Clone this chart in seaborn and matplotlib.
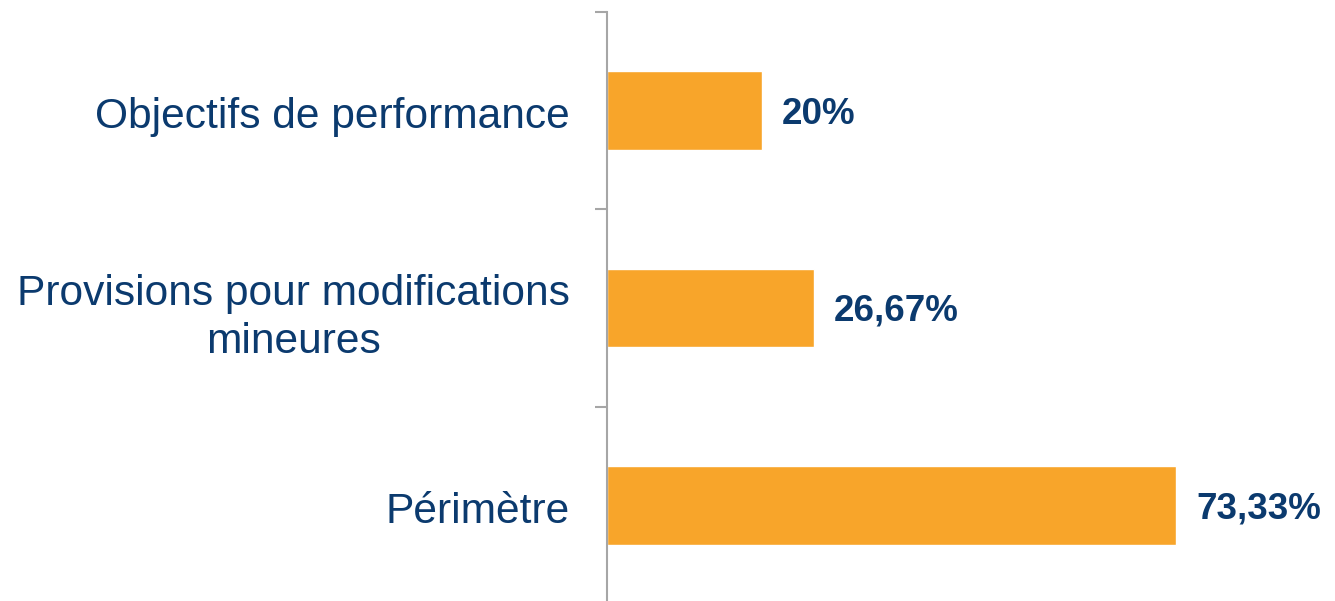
import matplotlib
matplotlib.use("Agg")
import matplotlib.pyplot as plt
import seaborn as sns
import pandas as pd
from matplotlib.transforms import offset_copy

categories = ["Objectifs de performance", "Provisions pour modifications\nmineures", "Périmètre"]
values = [20.0, 26.67, 73.33]
value_labels = ["20%", "26,67%", "73,33%"]

BAR = "#F8A52A"
TEXT = "#0B3A6E"
AXIS = "#A6A6A6"

sns.set_theme(style="white")
plt.rcParams["font.family"] = ["Liberation Sans", "DejaVu Sans"]

df = pd.DataFrame({"cat": categories, "val": values})

fig = plt.figure(figsize=(13.35, 6.01), dpi=100)
ax = fig.add_axes([607 / 1335, -3 / 601, 1 - 607 / 1335, (604 - 12) / 601])

sns.barplot(data=df, y="cat", x="val", orient="h", color=BAR, width=0.4,
            saturation=1, ax=ax)

ax.set_xlim(0, (1335 - 607) / 7.76)
ax.set_ylim(2.5, -0.5)

for sp in ["top", "right", "bottom"]:
    ax.spines[sp].set_visible(False)
ax.spines["left"].set_color(AXIS)
ax.spines["left"].set_linewidth(1.5)
ax.set_xticks([])
ax.set_xlabel("")
ax.set_ylabel("")

# Boundary ticks (major) and category labels (minor)
ax.set_yticks([-0.5, 0.5, 1.5, 2.5])
ax.set_yticklabels([])
ax.set_yticks([0, 1, 2], minor=True)
ax.set_yticklabels(categories, minor=True, fontsize=30.6, color=TEXT,
                   ha="center", linespacing=1.25)
ax.tick_params(axis="y", which="major", length=9, width=1.5, color=AXIS,
               direction="out", left=True)
ax.tick_params(axis="y", which="minor", length=0, pad=0)

fig.canvas.draw()
renderer = fig.canvas.get_renderer()
for lab in ax.get_yticklabels(minor=True):
    bb = lab.get_window_extent(renderer)
    w = bb.width
    lab.set_horizontalalignment("center")
    lab.set_transform(offset_copy(ax.get_yaxis_transform(which="tick1"),
                                  fig=fig, x=(570 - 607 - w / 2) * 0.72,
                                  y=-2 * 0.72, units="points"))

anns = ax.bar_label(ax.containers[0], labels=value_labels, padding=14.4,
                    fontsize=26.5, fontweight="bold", color=TEXT)
for a in anns:
    a.xyann = (14.4, -3.5 * 0.72)

fig.savefig("out.png", dpi=100)
